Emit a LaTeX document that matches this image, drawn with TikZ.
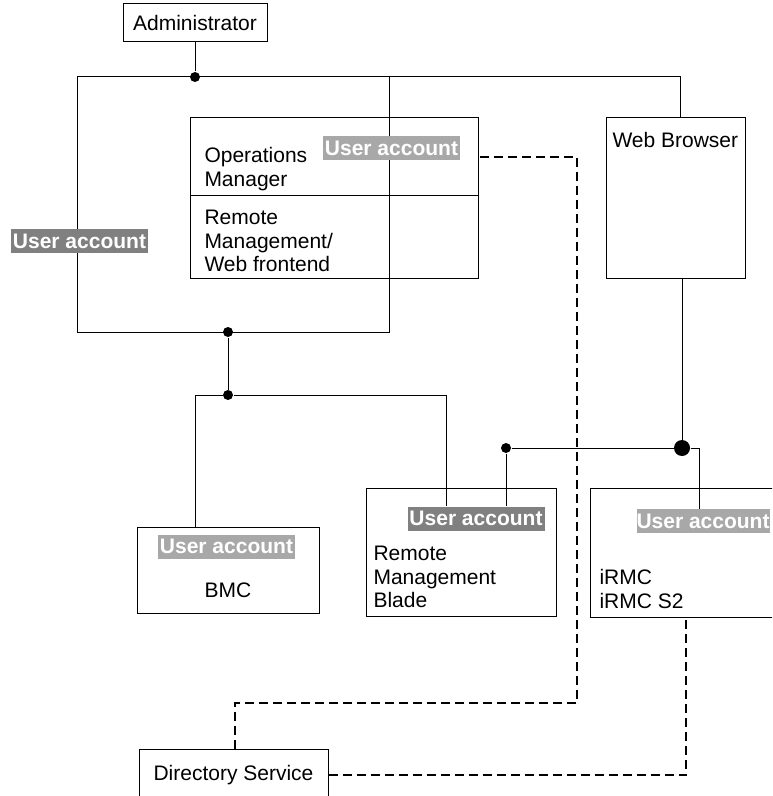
\documentclass[tikz,border=0pt]{standalone}
\usepackage{fontspec}
\setmainfont{Liberation Sans}
\usetikzlibrary{positioning}
\definecolor{uadark}{RGB}{128,128,128}
\definecolor{ualight}{RGB}{168,168,168}

\begin{document}
\begin{tikzpicture}[
	x=0.5pt,
	y=-0.5pt,
	font=\fontsize{10.5}{11.75}\selectfont,
	line width=0.5pt,
	box/.style={
		draw,
		rectangle,
		inner sep=0
	},
	txt/.style={
		inner sep=0,
		align=left,
		anchor=north west
	},
	account/.style={
		fill=#1,
		text=white,
		font=\fontsize{10.5}{11.75}\selectfont\bfseries,
		inner sep=0,
		minimum width=68.5pt,
		minimum height=12pt
	},
	dot/.style={
		circle,
		fill,
		inner sep=0,
		minimum size=5pt
	},
	bigdot/.style={
		circle,
		fill,
		inner sep=0,
		minimum size=8pt
	},
	dirlink/.style={
		dash pattern=on 4.5pt off 2.5pt,
		line width=0.75pt
	}]

   \clip (0,0) rectangle (772,796);

   % boxes
   \node[box, minimum width=72pt, minimum height=19pt] (admin) at (195,23) {Administrator};
   \node[box, minimum width=144pt, minimum height=80.5pt] (ops) at (334,198.5) {};
   \node[box, minimum width=69.5pt, minimum height=80.5pt] (web) at (675.5,198.5) {};
   \node[box, minimum width=91pt, minimum height=43pt] (bmc) at (228,570) {};
   \node[box, minimum width=95pt, minimum height=64pt] (blade) at (461,552) {};
   \node[box, minimum width=100pt, minimum height=64.5pt, anchor=north west] (irmc) at (590,488) {};
   \node[box, minimum width=94.5pt, minimum height=26pt] (dir) at (233.5,775) {Directory Service};

   \coordinate (divl) at (190,196);
   \draw (divl) -- (divl -| ops.east);

   % texts
   \node[txt] (opstxt) at (204,147) {Operations\\Manager};
   \node[txt] (rmtxt) at (204,210) {Remote\\Management/\\Web frontend};
   \node[txt] (webtxt) at (612,132) {Web Browser};
   \node (bmctxt) at (228,590) {BMC};
   \node[txt] (bladetxt) at (373,546) {Remote\\Management\\Blade};
   \node[txt] (irmctxt) at (599,569) {iRMC\\iRMC S2};

   % connection points
   \node[dot] (dA) at (195,77) {};
   \node[dot] (dB) at (228,332) {};
   \node[dot] (dC) at (228,395) {};
   \node[dot] (dD) at (506,448) {};
   \node[bigdot] (dE) at (682,448) {};
   \coordinate (webin) at (680,118);
   \coordinate (webout) at (682,279);
   \coordinate (bmcin) at (195,527);
   \coordinate (bladeinA) at (446,506);
   \coordinate (bladeinB) at (506,506);
   \coordinate (irmcin) at (699,509);
   \coordinate (opsout) at (480,157);
   \coordinate (dirin) at (235,749);
   \coordinate (irmcout) at (686,617);

   % connectors
   \draw (77,77) rectangle (389,332);
   \draw (admin) -- (dA);
   \draw (dA) -| (webin);
   \draw (dB) -- (dC);
   \draw (dC) -- (195,395) -- (bmcin);
   \draw (dC) -- (446,395) -- (bladeinA);
   \draw (dD) -- (bladeinB);
   \draw (dD) -- (dE);
   \draw (dE) -- (699,448) -- (irmcin);
   \draw (webout) -- (dE);
   \draw[dirlink] (opsout) -- (577,157) -- (577,703) -| (dirin);
   \draw[dirlink] (dir.east) -| (irmcout);

   % user accounts
   \node[account=uadark] (ualeft) at (79.5,241) {User account};
   \node[account=ualight] (uaops) at (391.5,148.5) {User account};
   \node[account=ualight] (uabmc) at (226.5,546.5) {User account};
   \node[account=uadark] (uablade) at (476,518.5) {User account};
   \node[account=ualight, anchor=west, minimum width=0pt] (uairmc) at (636,521) {User account};
\end{tikzpicture}
\end{document}
